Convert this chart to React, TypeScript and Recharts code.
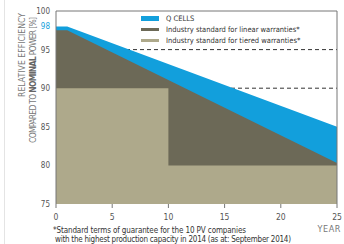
import React from "react";
import { ComposedChart, Area, XAxis, YAxis, CartesianGrid, ReferenceLine, Legend } from "recharts";

// values (nulls are bridged with connectNulls)
const years = [0, 1, 10, 25];
const qCells = [98, 98, null, 85];
const linearStd = [97.5, 97.5, null, 80.3];
const tieredStd = [90, null, 80, 80];

const yTicks = [75, 80, 85, 90, 95, 98, 100];
const xTicks = [0, 5, 10, 15, 20, 25];
const dashedLevels = [95, 90];

const seriesKeys = ["qcells", "linear", "tiered"];
const seriesNames = ["Q CELLS", "Industry standard for linear warranties*", "Industry standard for tiered warranties*"];

const BLUE = "#129fdc";
const OLIVE = "#6c6957";
const TAN = "#aea98b";
const FONT = "'Liberation Sans Narrow', 'DejaVu Sans Condensed', 'DejaVu Sans', sans-serif";

const data = years.map((year, i) => ({
  year,
  qcells: qCells[i],
  linear: linearStd[i],
  tiered: tieredStd[i],
}));

const legendStyle: Record<string, { color: string; h: number }> = {
  qcells: { color: BLUE, h: 5 },
  linear: { color: OLIVE, h: 3 },
  tiered: { color: TAN, h: 3 },
};

function YTick(props: any) {
  const { x, y, payload } = props;
  return (
    <text x={x} y={y} dy={3} textAnchor="end" fontSize={8} fontFamily={FONT} fill={payload.value === 98 ? BLUE : "#555"}>
      {payload.value}
    </text>
  );
}

function XTick(props: any) {
  const { x, y, payload } = props;
  return (
    <text x={x} y={y} dy={10} textAnchor="middle" fontSize={8.5} fontFamily={FONT} fill="#555">
      {payload.value}
    </text>
  );
}

function LegendBox(props: any) {
  const items = [...(props.payload || [])].sort(
    (a: any, b: any) => seriesKeys.indexOf(a.dataKey) - seriesKeys.indexOf(b.dataKey)
  );
  return (
    <div style={{ fontFamily: FONT, fontSize: 7.5, color: "#333" }}>
      {items.map((it: any) => {
        const st = legendStyle[it.dataKey] || { color: it.color, h: 3 };
        return (
          <div key={it.dataKey} style={{ display: "flex", alignItems: "center", height: 11 }}>
            <span style={{ display: "inline-block", width: 18, height: st.h, background: st.color, marginRight: 7 }} />
            <span>{it.value}</span>
          </div>
        );
      })}
    </div>
  );
}

export default function App() {
  return (
    <div style={{ position: "absolute", left: 0, top: 0, width: 344, height: 244, background: "#fff" }}>
      <div style={{ position: "absolute", left: 4, top: 0, width: 1, height: 244, background: "#e4e4e4" }} />
      <ComposedChart width={344} height={244} data={data} margin={{ top: 11, right: 7, left: 0, bottom: 0 }}>
        <CartesianGrid horizontal vertical={false} horizontalValues={dashedLevels} stroke="#333" strokeDasharray="4 3" />
        <XAxis
          dataKey="year"
          type="number"
          domain={[0, 25]}
          ticks={xTicks}
          height={40}
          axisLine={false}
          tickLine={{ stroke: "#777" }}
          tickSize={4}
          tick={<XTick />}
          interval={0}
        />
        <YAxis
          type="number"
          domain={[75, 100]}
          ticks={yTicks}
          width={56}
          axisLine={{ stroke: "#777" }}
          tickLine={false}
          tickSize={0}
          tickMargin={6}
          tick={<YTick />}
          interval={0}
        />
        <Area dataKey="qcells" name={seriesNames[0]} type="linear" stroke="none" fill={BLUE} fillOpacity={1} connectNulls isAnimationActive={false} />
        <Area dataKey="linear" name={seriesNames[1]} type="linear" stroke="none" fill={OLIVE} fillOpacity={1} connectNulls isAnimationActive={false} />
        <Area dataKey="tiered" name={seriesNames[2]} type="stepAfter" stroke="none" fill={TAN} fillOpacity={1} connectNulls isAnimationActive={false} />
        <ReferenceLine y={100} stroke="#777" />
        <ReferenceLine x={25} stroke="#777" />
        <Legend
          layout="vertical"
          align="center"
          verticalAlign="middle"
          content={<LegendBox />}
          wrapperStyle={{ position: "absolute", left: 141, top: 13, width: 180 }}
        />
      </ComposedChart>
      <svg width={344} height={244} style={{ position: "absolute", left: 0, top: 0, pointerEvents: "none" }}>
        <g fontFamily={FONT} fill="#777" fontSize={8.5}>
          <text transform="translate(25,13) rotate(-90)" textAnchor="end" textLength={84} lengthAdjust="spacing">
            RELATIVE EFFICIENCY
          </text>
          <text transform="translate(36,17) rotate(-90)" textAnchor="end" textLength={126} lengthAdjust="spacing">
            COMPARED TO <tspan fontWeight="bold" fill="#666">NOMINAL</tspan> POWER [%]
          </text>
          <text x={341} y={231.5} textAnchor="end" fontSize={9} letterSpacing={0.6}>YEAR</text>
        </g>
        <g fontFamily={FONT} fill="#333" fontSize={8}>
          <text x={53} y={233} textLength={193} lengthAdjust="spacing">*Standard terms of guarantee for the 10 PV companies</text>
          <text x={55} y={241.5} textLength={236} lengthAdjust="spacing">with the highest production capacity in 2014 (as at: September 2014)</text>
        </g>
      </svg>
    </div>
  );
}
